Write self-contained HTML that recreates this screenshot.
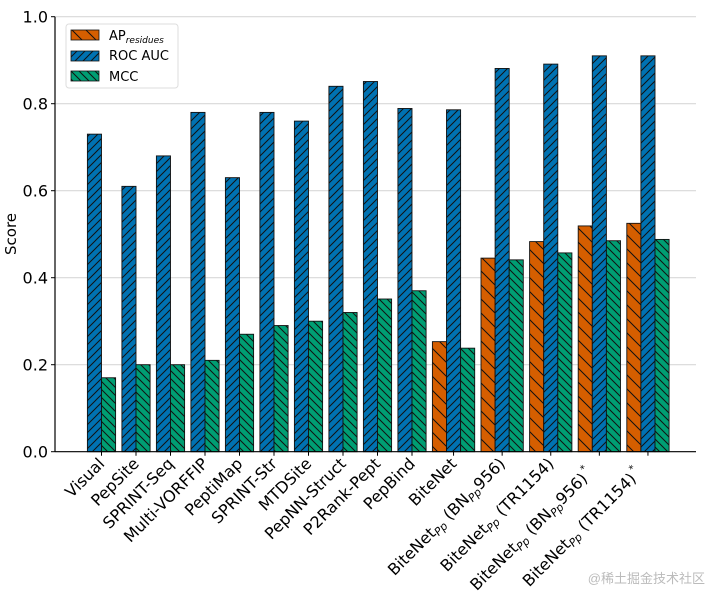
<!DOCTYPE html>
<html><head><meta charset="utf-8"><style>
html,body{margin:0;padding:0;background:#fff;}
svg{display:block;font-family:"DejaVu Sans","Liberation Sans",sans-serif;}
</style></head><body>
<svg id="chart" width="720" height="603" viewBox="0 0 720 603">
<defs>
<pattern id="hAP" patternUnits="userSpaceOnUse" width="14" height="14">
<rect width="14" height="14" fill="#d55e00"/><path d="M-2,-2 L16,16 M-2,12 L2,16 M12,-2 L16,2" stroke="#111" stroke-width="1"/></pattern>
<pattern id="hROC" patternUnits="userSpaceOnUse" width="8" height="8">
<rect width="8" height="8" fill="#0072b2"/><path d="M-1,9 L9,-1 M-1,1 L1,-1 M7,9 L9,7" stroke="#111" stroke-width="1"/></pattern>
<pattern id="hMCC" patternUnits="userSpaceOnUse" width="8" height="8">
<rect width="8" height="8" fill="#009e73"/><path d="M-1,-1 L9,9 M-1,7 L1,9 M7,-1 L9,1" stroke="#111" stroke-width="1"/></pattern>
</defs>
<g id="grid"></g>
<g id="bars"></g>
<g id="axes"></g>
<g id="legend">
<rect x="66" y="24" width="112" height="64" rx="3" fill="#fff" fill-opacity="0.85" stroke="#ddd"/>
<rect x="71" y="30" width="28" height="10" fill="url(#hAP)" stroke="#111" stroke-width="0.8"/>
<text x="109" y="40" font-size="13">AP<tspan font-size="9" font-style="italic" dy="3">residues</tspan></text>
<rect x="71" y="51" width="28" height="10" fill="url(#hROC)" stroke="#111" stroke-width="0.8"/>
<text x="109" y="60" font-size="13">ROC AUC</text>
<rect x="71" y="71" width="28" height="10" fill="url(#hMCC)" stroke="#111" stroke-width="0.8"/>
<text x="109" y="81" font-size="13">MCC</text>
</g>
<text x="16" y="234" font-size="15" text-anchor="middle" transform="rotate(-90 16 234)">Score</text>
<text x="705" y="583" font-size="13" fill="#bbb" text-anchor="end" font-family="'Liberation Sans','Noto Sans CJK SC',sans-serif">@稀土掘金技术社区</text>
</svg>
<script>
const categories = ["Visual","PepSite","SPRINT-Seq","Multi-VORFFIP","PeptiMap","SPRINT-Str","MTDSite","PepNN-Struct","P2Rank-Pept","PepBind","BiteNet","BiteNet_Pp (BN_Pp956)","BiteNet_Pp (TR1154)","BiteNet_Pp (BN_Pp956)*","BiteNet_Pp (TR1154)*"];
const apValues  = [null,null,null,null,null,null,null,null,null,null,0.253,0.445,0.483,0.519,0.525];
const rocValues = [0.73,0.61,0.68,0.78,0.63,0.78,0.76,0.84,0.851,0.789,0.786,0.881,0.891,0.91,0.91];
const mccValues = [0.17,0.20,0.20,0.21,0.27,0.29,0.30,0.32,0.351,0.37,0.238,0.441,0.457,0.485,0.488];
const yTicks = [0.0,0.2,0.4,0.6,0.8,1.0];
const yTickLabels = ["0.0","0.2","0.4","0.6","0.8","1.0"];

const NS="http://www.w3.org/2000/svg";
const X0=55, X1=696, Y0=451.7, Y1=16.7, BW=14.1, GAP=6.3, START=87.4;
function y(v){return Y0-(v-0)/(1-0)*(Y0-Y1);}
function mk(tag,attrs,parent){const e=document.createElementNS(NS,tag);for(const k in attrs)e.setAttribute(k,attrs[k]);parent.appendChild(e);return e;}
const grid=document.getElementById('grid'),bars=document.getElementById('bars'),axes=document.getElementById('axes');
yTicks.forEach((t,i)=>{
  if(t>0){const g=mk('line',{x1:X0,x2:X1,y1:y(t),y2:y(t),stroke:'#d8d8d8','stroke-width':1.2},grid);
  
  }
  const tk=mk('line',{x1:X0-4,x2:X0,y1:y(t),y2:y(t),stroke:'#000'},axes);
  
  
  const lb=mk('text',{x:X0-7,y:y(t)+6,'font-size':16,'text-anchor':'end'},axes);
  lb.textContent=yTickLabels[i];
  
  
});
let cursor=START;
categories.forEach((c,i)=>{
  const series=[];
  if(apValues[i]!=null)series.push(['url(#hAP)',apValues[i],'bar-ap']);
  series.push(['url(#hROC)',rocValues[i],'bar-roc-auc']);
  series.push(['url(#hMCC)',mccValues[i],'bar-mcc']);
  const w=series.length*BW, cx=cursor+w/2;
  series.forEach((s,j)=>{
    const r=mk('rect',{x:cursor+j*BW,y:y(s[1]),width:BW,height:Y0-y(s[1]),fill:s[0],stroke:'#111','stroke-width':0.9},bars);
    
    
  });
  const tk=mk('line',{x1:cx,x2:cx,y1:Y0,y2:Y0+4,stroke:'#000'},axes);
  
  
  const star=c.endsWith('*');
  const ax=cx+4-(star?10:0), ay=Y0+13+(star?10:0);
  const lb=mk('text',{x:0,y:0,'font-size':16,'text-anchor':'end',transform:`translate(${ax},${ay}) rotate(-45)`},axes);
  const m=c.match(/^(BiteNet)_Pp(?: \((BN_Pp956|TR1154)\))?(\*)?$/);
  if(m){
    lb.appendChild(document.createTextNode('BiteNet'));
    const s1=mk('tspan',{'font-size':11,'font-style':'italic',dy:3},lb);s1.textContent='Pp';
    const rest=mk('tspan',{dy:-3},lb);
    if(m[2]==='BN_Pp956'){rest.textContent=' (BN';const s2=mk('tspan',{'font-size':11,'font-style':'italic',dy:3},lb);s2.textContent='Pp';const r2=mk('tspan',{dy:-3},lb);r2.textContent='956)';}
    else rest.textContent=' (TR1154)';
    if(m[3]){const st=mk('tspan',{'font-size':10,dy:-8,dx:2},lb);st.textContent='*';}
  } else lb.textContent=c;
  
  
  cursor+=w+GAP;
});
const ya=mk('line',{x1:X0,x2:X0,y1:Y1,y2:Y0,stroke:'#000','stroke-width':1.2},axes);


const xa=mk('line',{x1:X0,x2:X1,y1:Y0,y2:Y0,stroke:'#000','stroke-width':1.2},axes);


</script>
</body></html>
